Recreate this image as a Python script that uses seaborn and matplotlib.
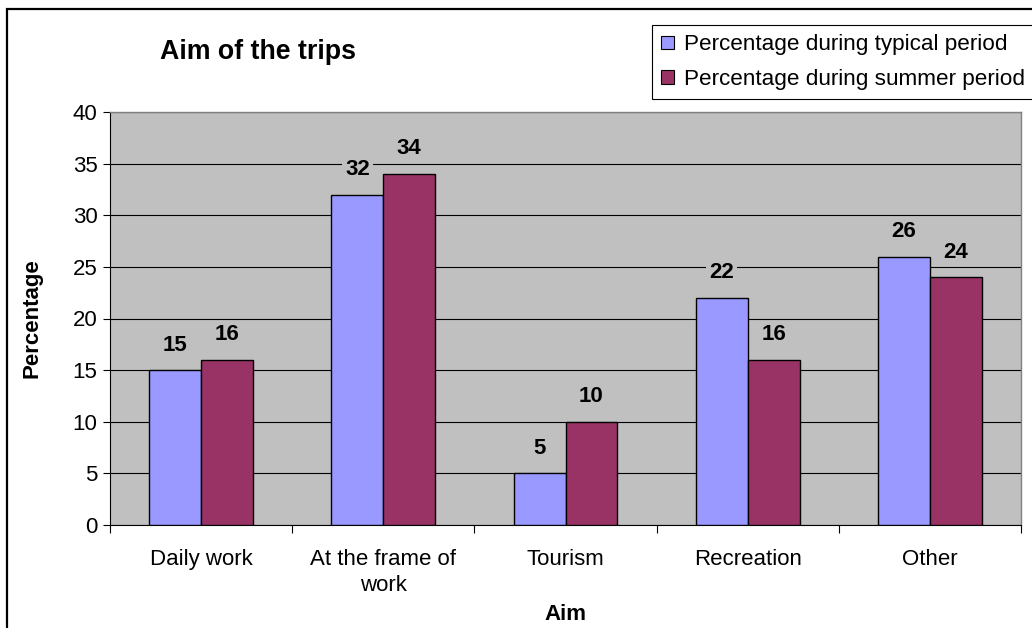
import matplotlib
matplotlib.use("Agg")
import matplotlib.pyplot as plt
import matplotlib.patches as mpatches
import seaborn as sns
import pandas as pd

categories = ["Daily work", "At the frame of\nwork", "Tourism", "Recreation", "Other"]
typical = [15, 32, 5, 22, 26]
summer = [16, 34, 10, 16, 24]
series_names = ["Percentage during typical period", "Percentage during summer period"]
colors = ["#9999FF", "#993366"]

df = pd.DataFrame({
    "Aim": categories * 2,
    "Percentage": typical + summer,
    "Series": [series_names[0]] * len(categories) + [series_names[1]] * len(categories),
})

sns.set_style("white")
plt.rcParams["font.family"] = ["Liberation Sans", "DejaVu Sans"]
plt.rcParams.update({"text.color": "black", "axes.labelcolor": "black",
                     "xtick.color": "black", "ytick.color": "black"})

fig = plt.figure(figsize=(10.32, 6.28), dpi=100)
ax = fig.add_axes([110 / 1032, 1 - 525 / 628, (1021 - 110) / 1032, (525 - 112) / 628])
ax.set_facecolor("#C0C0C0")

sns.barplot(data=df, x="Aim", y="Percentage", hue="Series", palette=colors,
            saturation=1, width=0.57, edgecolor="black", linewidth=1.0, ax=ax, zorder=3,
            legend=False)

ax.set_ylim(0, 40)
ax.set_xlim(-0.5, 4.5)
ax.set_yticks(range(0, 41, 5))
ax.yaxis.grid(True, color="black", linewidth=0.8, zorder=0)
ax.set_axisbelow(True)

for s in ["top", "right"]:
    ax.spines[s].set_color("#808080")
    ax.spines[s].set_linewidth(1.0)
for s in ["left", "bottom"]:
    ax.spines[s].set_color("#000000")
    ax.spines[s].set_linewidth(0.8)

ax.tick_params(axis="y", which="both", left=True, length=5, width=0.8, labelsize=16, pad=4, color="black")
ax.set_xticks(range(len(categories)))
ax.set_xticklabels(categories, fontsize=16, linespacing=1.3)
ax.tick_params(axis="x", bottom=False, pad=14)
ax.set_xticks([i - 0.5 for i in range(len(categories) + 1)], minor=True)
ax.tick_params(axis="x", which="minor", bottom=True, length=6, width=0.8, color="black")

ax.set_ylabel("Percentage", fontsize=16, fontweight="bold", labelpad=22)
ax.set_xlabel("Aim", fontsize=16, fontweight="bold", labelpad=6)

for cont in ax.containers:
    for bar in cont:
        h = bar.get_height()
        ax.annotate(f"{h:g}", (bar.get_x() + bar.get_width() / 2, h),
                    xytext=(0, 18), textcoords="offset points",
                    ha="center", va="center", fontsize=16, fontweight="bold",
                    bbox=dict(boxstyle="square,pad=0.15", fc="#C0C0C0", ec="none"),
                    zorder=5)

fig.text(258 / 1032, 1 - 52 / 628, "Aim of the trips", fontsize=19.3, fontweight="bold",
         ha="center", va="center")

handles = [mpatches.Patch(facecolor=c, edgecolor="black", linewidth=0.8) for c in colors]
leg = fig.legend(handles, series_names, loc="upper left",
                 bbox_to_anchor=(652 / 1032, 1 - 25 / 628), fontsize=16.2,
                 frameon=True, fancybox=False, framealpha=1, edgecolor="black",
                 handlelength=0.55, handleheight=0.55, handletextpad=0.45,
                 borderpad=0.42, labelspacing=0.6, borderaxespad=0)
leg.get_frame().set_linewidth(0.8)
for t in leg.get_texts():
    t.set_x(t.get_position()[0])
leg._legend_box.set_offset  # keep default packing

border = mpatches.Rectangle((7 / 1032, -0.2), 1.2, 1.2 - 9 / 628, transform=fig.transFigure,
                            fill=False, edgecolor="black", linewidth=1.6, zorder=10)
fig.patches.append(border)

fig.savefig("out.png", dpi=100)
